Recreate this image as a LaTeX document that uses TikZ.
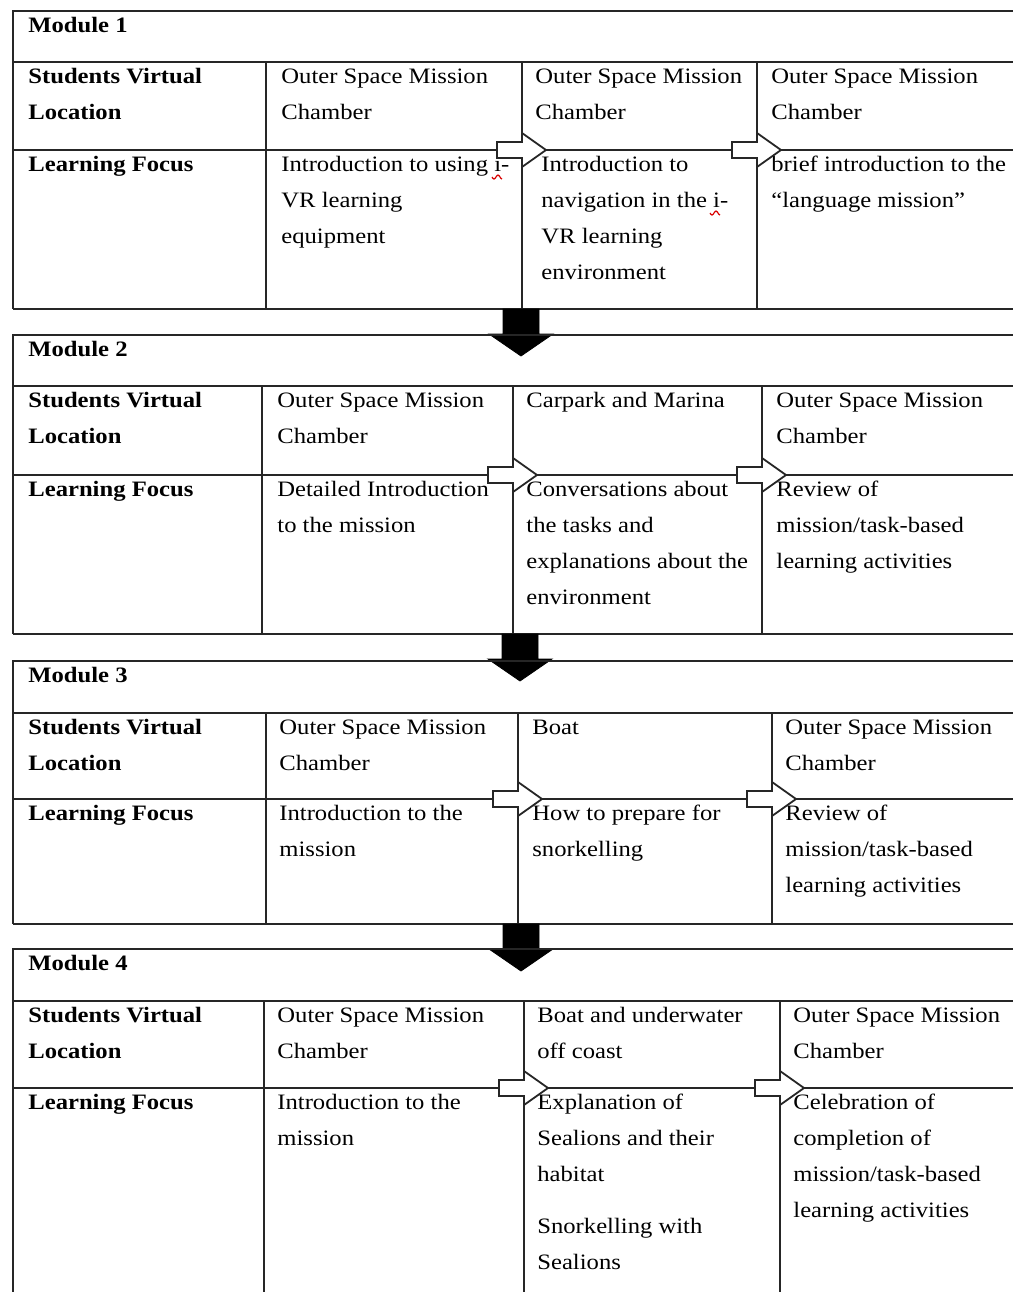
\documentclass[tikz,border=0pt]{standalone}
\usepackage{fontspec}
\setmainfont{Liberation Serif}[FakeStretch=1.12]
\def\mlbreak{\egroup\hbox\bgroup}
\def\mlgap{\egroup\vskip8pt\hbox\bgroup}
\newcommand\txtlines[1]{\vtop{\baselineskip=18pt\lineskiplimit=-50pt\let\\\mlbreak\hbox\bgroup#1\egroup}}
\tikzset{
  tline/.style={draw=black!85, line width=1pt},
  celltext/.style={anchor=base west, inner sep=0pt, text=black, font=\fontsize{11pt}{18pt}\selectfont},
  headtext/.style={celltext, font=\fontsize{11pt}{18pt}\selectfont\bfseries},
  rarrow/.style={draw=black!85, line width=0.9pt, fill=white, line join=miter},
  darrow/.style={fill=black, draw=black, line width=0.4pt},
  squiggle/.style={draw=red!85!black, line width=0.6pt}
}
% #1 top, #2 title bottom, #3 location bottom, #4 bottom, #5 #6 #7 column x
\newcommand\modulegrid[7]{%
  \draw[tline] (1013,#1) -- (13,#1) -- (13,#4);
  \draw[tline] (13,#2) -- (1013,#2);
  \draw[tline] (13,#3) -- (1013,#3);
  \draw[tline] (13,#4) -- (1013,#4);
  \draw[tline] (#5,#2) -- (#5,#4);
  \draw[tline] (#6,#2) -- (#6,#4);
  \draw[tline] (#7,#2) -- (#7,#4);
}
% hollow right arrow: #1 column x, #2 row line y
\newcommand\rightarrowshape[2]{%
  \draw[rarrow] ({#1-25},{#2-8}) -- (#1,{#2-8}) -- (#1,{#2-17}) -- ({#1+24},#2)
    -- (#1,{#2+17}) -- (#1,{#2+8}) -- ({#1-25},{#2+8}) -- cycle;
}
% black down arrow: #1 centre x, #2 top y
\newcommand\downarrowshape[2]{%
  \fill[darrow] ({#1-18},#2) -- ({#1+18},#2) -- ({#1+18},{#2+25}) -- ({#1+32},{#2+25})
    -- (#1,{#2+47}) -- ({#1-32},{#2+25}) -- ({#1-18},{#2+25}) -- cycle;
}
% red spell-check squiggle: #1 left x, #2 y
\newcommand\spellmark[2]{%
  \draw[squiggle] (#1,#2) sin ({#1+2},{#2+2}) cos ({#1+4},#2) sin ({#1+6},{#2-2}) cos ({#1+8},#2) sin ({#1+10},{#2+2});
}
\begin{document}
\begin{tikzpicture}[x=0.5pt, y=-0.5pt]
\useasboundingbox (0,0) rectangle (1013,1292);
\clip (0,0) rectangle (1013,1292);
\fill[white] (0,0) rectangle (1013,1292);

% ---------------- Module 1 ----------------
\modulegrid{11}{62}{150}{309}{266}{522}{757}
\node[headtext] (m1title) at (28,32) {Module 1};
\node[headtext] (m1loc) at (28,83) {\txtlines{Students Virtual\\Location}};
\node[celltext] (m1l2) at (281,83) {\txtlines{Outer Space Mission\\Chamber}};
\node[celltext] (m1l3) at (535,83) {\txtlines{Outer Space Mission\\Chamber}};
\node[celltext] (m1l4) at (771,83) {\txtlines{Outer Space Mission\\Chamber}};
\node[headtext] (m1foc) at (28,171) {Learning Focus};
\node[celltext] (m1f2) at (281,171) {\txtlines{Introduction to using i-\\VR learning\\equipment}};
\node[celltext] (m1f3) at (541,171) {\txtlines{Introduction to\\navigation in the i-\\VR learning\\environment}};
\node[celltext] (m1f4) at (771,171) {\txtlines{brief introduction to the\\“language mission”}};
\spellmark{492}{177}
\spellmark{710}{213}
\rightarrowshape{522}{150}
\rightarrowshape{757}{150}
\downarrowshape{521}{309}

% ---------------- Module 2 ----------------
\modulegrid{335}{386}{475}{634}{262}{513}{762}
\node[headtext] (m2title) at (28,356) {Module 2};
\node[headtext] (m2loc) at (28,407) {\txtlines{Students Virtual\\Location}};
\node[celltext] (m2l2) at (277,407) {\txtlines{Outer Space Mission\\Chamber}};
\node[celltext] (m2l3) at (526,407) {Carpark and Marina};
\node[celltext] (m2l4) at (776,407) {\txtlines{Outer Space Mission\\Chamber}};
\node[headtext] (m2foc) at (28,496) {Learning Focus};
\node[celltext] (m2f2) at (277,496) {\txtlines{Detailed Introduction\\to the mission}};
\node[celltext] (m2f3) at (526,496) {\txtlines{Conversations about\\the tasks and\\explanations about the\\environment}};
\node[celltext] (m2f4) at (776,496) {\txtlines{Review of\\mission/task-based\\learning activities}};
\rightarrowshape{513}{475}
\rightarrowshape{762}{475}
\downarrowshape{520}{634}

% ---------------- Module 3 ----------------
\modulegrid{661}{713}{799}{924}{266}{518}{772}
\node[headtext] (m3title) at (28,682) {Module 3};
\node[headtext] (m3loc) at (28,734) {\txtlines{Students Virtual\\Location}};
\node[celltext] (m3l2) at (279,734) {\txtlines{Outer Space Mission\\Chamber}};
\node[celltext] (m3l3) at (532,734) {Boat};
\node[celltext] (m3l4) at (785,734) {\txtlines{Outer Space Mission\\Chamber}};
\node[headtext] (m3foc) at (28,820) {Learning Focus};
\node[celltext] (m3f2) at (279,820) {\txtlines{Introduction to the\\mission}};
\node[celltext] (m3f3) at (532,820) {\txtlines{How to prepare for\\snorkelling}};
\node[celltext] (m3f4) at (785,820) {\txtlines{Review of\\mission/task-based\\learning activities}};
\rightarrowshape{518}{799}
\rightarrowshape{772}{799}
\downarrowshape{521}{924}

% ---------------- Module 4 ----------------
\modulegrid{949}{1001}{1088}{1400}{264}{524}{780}
\node[headtext] (m4title) at (28,970) {Module 4};
\node[headtext] (m4loc) at (28,1022) {\txtlines{Students Virtual\\Location}};
\node[celltext] (m4l2) at (277,1022) {\txtlines{Outer Space Mission\\Chamber}};
\node[celltext] (m4l3) at (537,1022) {\txtlines{Boat and underwater\\off coast}};
\node[celltext] (m4l4) at (793,1022) {\txtlines{Outer Space Mission\\Chamber}};
\node[headtext] (m4foc) at (28,1109) {Learning Focus};
\node[celltext] (m4f2) at (277,1109) {\txtlines{Introduction to the\\mission}};
\node[celltext] (m4f3) at (537,1109) {\txtlines{Explanation of\\Sealions and their\\habitat\mlgap Snorkelling with\\Sealions}};
\node[celltext] (m4f4) at (793,1109) {\txtlines{Celebration of\\completion of\\mission/task-based\\learning activities}};
\rightarrowshape{524}{1088}
\rightarrowshape{780}{1088}
\end{tikzpicture}
\end{document}
